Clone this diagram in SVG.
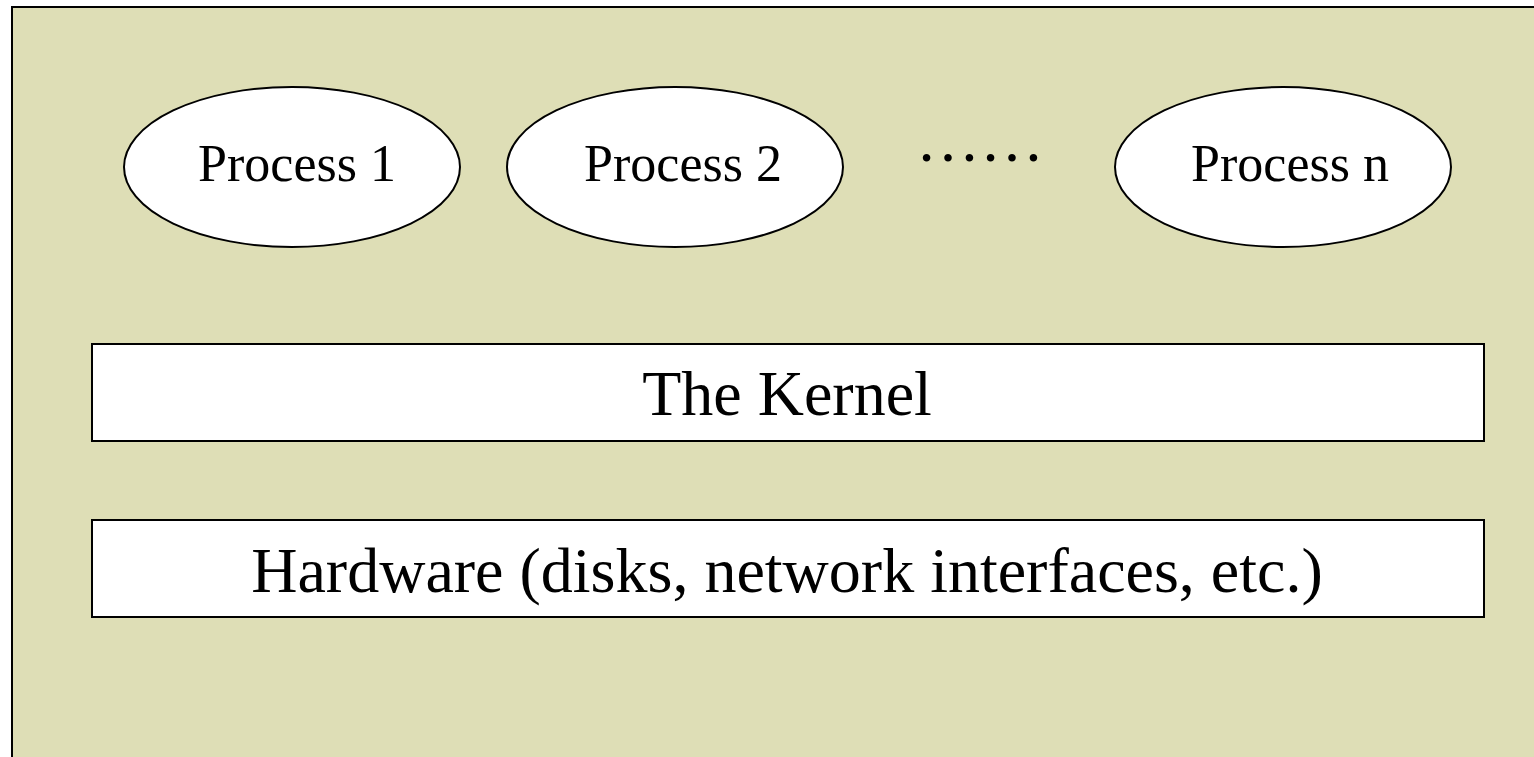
<svg xmlns="http://www.w3.org/2000/svg" width="1534" height="757" viewBox="0 0 1534 757">
<style>
.bg{fill:#DEDEB6;stroke:#000;stroke-width:2}
.node{fill:#fff;stroke:#000;stroke-width:2}
.t{font-family:"Liberation Serif","Times New Roman",serif;fill:#000;text-anchor:middle}
</style>
<rect class="bg" x="12" y="7" width="1540" height="770"/>
<g id="process1"><ellipse class="node" cx="292" cy="167" rx="168" ry="80"/><text class="t" x="297" y="181" font-size="52">Process 1</text></g>
<g id="process2"><ellipse class="node" cx="675" cy="167" rx="168" ry="80"/><text class="t" x="683" y="181" font-size="52">Process 2</text></g>
<g id="dots"><text class="t" x="980" y="161" font-size="64">……</text></g>
<g id="processn"><ellipse class="node" cx="1283" cy="167" rx="168" ry="80"/><text class="t" x="1290" y="181" font-size="52">Process n</text></g>
<g id="kernel"><rect class="node" x="92" y="344" width="1392" height="97"/><text class="t" x="787" y="415" font-size="64">The Kernel</text></g>
<g id="hardware"><rect class="node" x="92" y="520" width="1392" height="97"/><text class="t" x="787" y="592" font-size="64">Hardware (disks, network interfaces, etc.)</text></g>
<g id="connectors"/>
</svg>
